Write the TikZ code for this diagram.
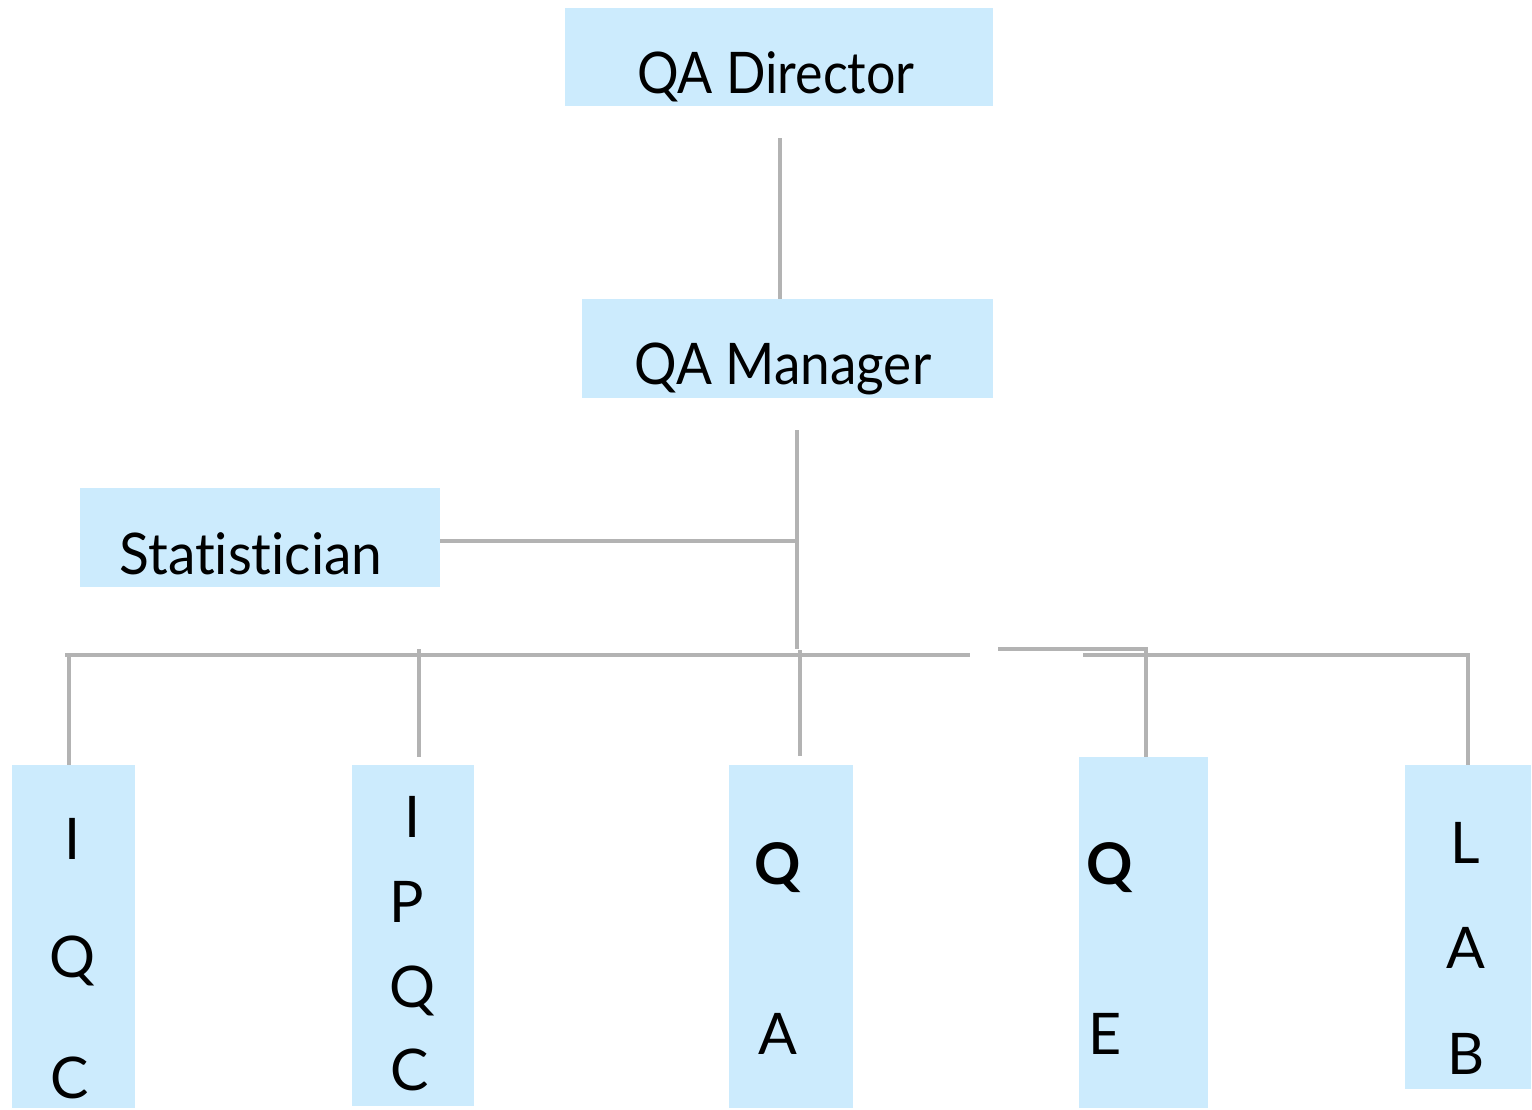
\documentclass[tikz,border=0pt]{standalone}
\usepackage{fontspec}
\setmainfont{Lato}[Ligatures=NoCommon]
\usetikzlibrary{fit}
\definecolor{boxblue}{RGB}{204,235,253}
\definecolor{linegray}{RGB}{179,179,179}
\tikzset{
  box/.style={fill=boxblue, draw=none, inner sep=0pt, rectangle},
  lbl/.style={anchor=base, inner sep=0pt, font=\fontsize{28.7}{34}\selectfont, text=black},
  blbl/.style={lbl, font=\fontsize{28.7}{34}\selectfont\bfseries},
  conn/.style={draw=linegray, line width=2pt}
}
\begin{document}
\begin{tikzpicture}[x=0.5pt,y=-0.5pt]
\useasboundingbox (0,0) rectangle (1532,1109);
% boxes
\node[box, fit={(565,8) (993,106)}] (dir) {};
\node[box, fit={(582,299) (993,398)}] (mgr) {};
\node[box, fit={(80,488) (440,587)}] (stat) {};
\node[box, fit={(12,765) (135,1108)}] (iqc) {};
\node[box, fit={(352,765) (474,1106)}] (ipqc) {};
\node[box, fit={(729,765) (853,1108)}] (qa) {};
\node[box, fit={(1079,757) (1208,1108)}] (qe) {};
\node[box, fit={(1405,765) (1531,1089)}] (lab) {};
% texts
\node[lbl] (dirT) at (776,93) {\scalebox{0.905}[1]{QA Director}};
\node[lbl] (mgrT) at (783,384) {\scalebox{0.925}[1]{QA Manager}};
\node[lbl] (statT) at (251,574) {\scalebox{0.96}[1]{Statistician}};
\node[lbl] (iqc1) at (73,859) {I};
\node[lbl] (iqc2) at (72,977) {Q};
\node[lbl] (iqc3) at (70,1098) {C};
\node[lbl] (ipqc1) at (413,837) {I};
\node[lbl] (ipqc2) at (407,922) {P};
\node[lbl] (ipqc3) at (412,1007) {Q};
\node[lbl] (ipqc4) at (410,1090) {C};
\node[blbl] (qa1) at (778,884) {Q};
\node[lbl] (qa2) at (778,1054) {A};
\node[blbl] (qe1) at (1110,884) {Q};
\node[lbl] (qe2) at (1105,1054) {E};
\node[lbl] (lab1) at (1465,863) {L};
\node[lbl] (lab2) at (1466,968) {A};
\node[lbl] (lab3) at (1466,1074) {B};
% junction coordinates
\coordinate (dirDown) at (780,138);
\coordinate (mgrDown) at (797,430);
\coordinate (mgrEnd) at (797,649);
\coordinate (statJ) at (797,541);
\coordinate (busL) at (65,655);
\coordinate (busR) at (970,655);
\coordinate (busQE) at (998,649);
\coordinate (qeJ) at (1146,649);
\coordinate (busLab) at (1083,655);
\coordinate (labJ) at (1468,655);
\coordinate (iqcJ) at (69,655);
\coordinate (ipqcTop) at (419,649);
\coordinate (ipqcEnd) at (419,757);
\coordinate (qaTop) at (800,650);
\coordinate (qaEnd) at (800,756);
% connectors
\draw[conn] (dirDown) -- (dirDown |- mgr.north);
\draw[conn] (mgrDown) -- (mgrEnd);
\draw[conn] (stat.east |- statJ) -- (statJ);
\draw[conn] (busL) -- (busR);
\draw[conn] (busQE) -- (qeJ) -- (qeJ |- qe.north);
\draw[conn] (busLab) -- (labJ) -- (labJ |- lab.north);
\draw[conn] (iqcJ) -- (iqcJ |- iqc.north);
\draw[conn] (ipqcTop) -- (ipqcEnd);
\draw[conn] (qaTop) -- (qaEnd);
\end{tikzpicture}
\end{document}
